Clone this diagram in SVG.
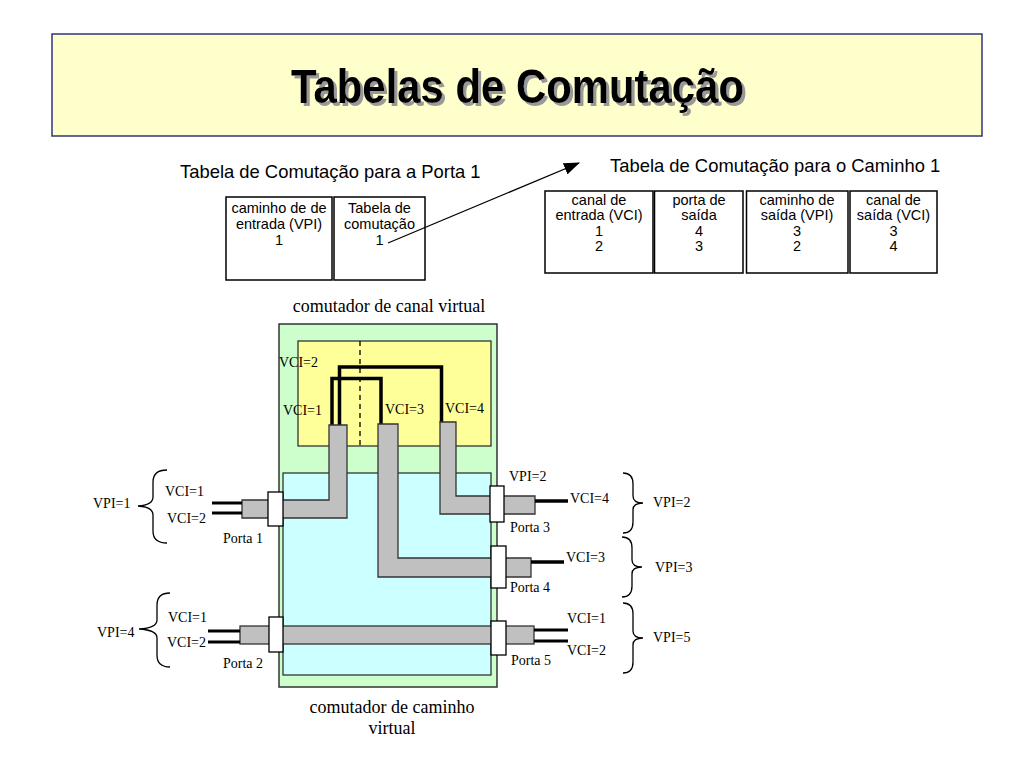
<svg xmlns="http://www.w3.org/2000/svg" width="1024" height="768" viewBox="0 0 1024 768">
<defs>
<style>
.sans{font-family:"Liberation Sans",Arial,sans-serif;fill:#000}
.tbl{font-family:"Liberation Sans",Arial,sans-serif;font-size:14.5px;text-anchor:middle;fill:#000}
.ser{font-family:"Liberation Serif","Times New Roman",serif;font-size:14px;fill:#000}
.big{font-family:"Liberation Serif","Times New Roman",serif;font-size:18px;fill:#000;text-anchor:middle}
.box{fill:#fff;stroke:#000;stroke-width:1.5}
.pipe{fill:#c0c0c0;stroke:#333;stroke-width:1.3}
.port{fill:#fff;stroke:#000;stroke-width:1.3}
.wire{fill:none;stroke:#000;stroke-width:3.5;stroke-linejoin:miter}
.brace{fill:none;stroke:#000;stroke-width:1.3}
</style>
<filter id="shadow" x="-5%" y="-20%" width="110%" height="140%">
<feOffset in="SourceAlpha" dx="2.5" dy="2.5" result="off"/>
<feFlood flood-color="#999999"/>
<feComposite in2="off" operator="in" result="sh"/>
<feMerge><feMergeNode in="sh"/><feMergeNode in="SourceGraphic"/></feMerge>
</filter>
<marker id="arr" markerWidth="16" markerHeight="12" refX="15" refY="6" orient="auto" markerUnits="userSpaceOnUse">
<path d="M0,0 L16,6 L0,12 Z" fill="#000"/>
</marker>
</defs>
<rect width="1024" height="768" fill="#fff"/>

<g id="title">
<rect x="52" y="34" width="930" height="102" fill="#ffffcc" stroke="#333380" stroke-width="1.5"/>
<text x="517.5" y="102.5" font-family="'Liberation Sans',Arial,sans-serif" font-weight="bold" font-size="48" text-anchor="middle" fill="#000" textLength="453" lengthAdjust="spacingAndGlyphs" filter="url(#shadow)">Tabelas de Comutação</text>
</g>

<g id="table-porta1">
<text class="sans" x="180" y="178" font-size="18.4">Tabela de Comutação para a Porta 1</text>
<g id="t1c1">
<rect class="box" x="226" y="197" width="106" height="83"/>
<text class="tbl" x="279" y="213">caminho de de</text>
<text class="tbl" x="279" y="229">entrada (VPI)</text>
<text class="tbl" x="279" y="245">1</text>
</g>
<g id="t1c2">
<rect class="box" x="334" y="197" width="91" height="83"/>
<text class="tbl" x="379.5" y="213">Tabela de</text>
<text class="tbl" x="379.5" y="229">comutação</text>
<text class="tbl" x="379.5" y="245">1</text>
</g>
</g>

<g id="table-caminho1">
<text class="sans" x="610" y="172" font-size="18.4">Tabela de Comutação para o Caminho 1</text>
<g id="t2c1">
<rect class="box" x="545" y="191" width="108" height="82"/>
<text class="tbl" x="599" y="205">canal de</text>
<text class="tbl" x="599" y="220">entrada (VCI)</text>
<text class="tbl" x="599" y="235.5">1</text>
<text class="tbl" x="599" y="251">2</text>
</g>
<g id="t2c2">
<rect class="box" x="654.5" y="191" width="88.5" height="82"/>
<text class="tbl" x="699" y="205">porta de</text>
<text class="tbl" x="699" y="220">saída</text>
<text class="tbl" x="699" y="235.5">4</text>
<text class="tbl" x="699" y="251">3</text>
</g>
<g id="t2c3">
<rect class="box" x="746.5" y="191" width="101.5" height="82"/>
<text class="tbl" x="797" y="205">caminho de</text>
<text class="tbl" x="797" y="220">saída (VPI)</text>
<text class="tbl" x="797" y="235.5">3</text>
<text class="tbl" x="797" y="251">2</text>
</g>
<g id="t2c4">
<rect class="box" x="850" y="191" width="87" height="82"/>
<text class="tbl" x="893.5" y="205">canal de</text>
<text class="tbl" x="893.5" y="220">saída (VCI)</text>
<text class="tbl" x="893.5" y="235.5">3</text>
<text class="tbl" x="893.5" y="251">4</text>
</g>
</g>

<g id="connectors">
<line x1="388" y1="243" x2="579" y2="163" stroke="#000" stroke-width="1.3" marker-end="url(#arr)"/>
</g>

<g id="switch">
<text class="big" x="389" y="312">comutador de canal virtual</text>
<rect id="vp-switch" x="279" y="324" width="218" height="363" fill="#ccffcc" stroke="#333" stroke-width="1.5"/>
<rect id="vc-switch" x="298" y="341" width="193" height="105" fill="#ffff99" stroke="#333" stroke-width="1.3"/>
<line x1="360" y1="341" x2="360" y2="446" stroke="#000" stroke-width="1.3" stroke-dasharray="5,4"/>
<rect id="vp-core" x="283" y="473" width="208" height="202" fill="#ccffff" stroke="#333" stroke-width="1.3"/>
<polyline class="wire" points="332,426 332,378.5 381,378.5 381,424"/>
<polyline class="wire" points="339.5,426 339.5,367 441.5,367 441.5,423"/>
<polygon class="pipe" points="242,500 329,500 329,425 347,425 347,518 242,518"/>
<polygon class="pipe" points="378,424 398,424 398,558 531,558 531,577 378,577"/>
<polygon class="pipe" points="440,422 456,422 456,496 535,496 535,514 440,514"/>
<rect class="pipe" x="240" y="626" width="294" height="18"/>
<text class="ser" x="279" y="367">VCI=2</text>
<text class="ser" x="283" y="415">VCI=1</text>
<text class="ser" x="385" y="414">VCI=3</text>
<text class="ser" x="445" y="413">VCI=4</text>
<text class="big" x="392" y="713">comutador de caminho</text>
<text class="big" x="392" y="734">virtual</text>
</g>

<g id="porta1">
<rect class="port" x="268" y="492" width="15" height="34"/>
<line x1="212" y1="503" x2="242" y2="503" stroke="#000" stroke-width="3"/>
<line x1="212" y1="513" x2="242" y2="513" stroke="#000" stroke-width="3"/>
<path class="brace" d="M167,470 Q153,470 153,482 L153,497 Q153,505 138,506 Q153,507 153,515 L153,531 Q153,543 167,543"/>
<text class="ser" x="93" y="508">VPI=1</text>
<text class="ser" x="165" y="496">VCI=1</text>
<text class="ser" x="167" y="523">VCI=2</text>
<text class="ser" x="223" y="543">Porta 1</text>
</g>

<g id="porta2">
<rect class="port" x="269" y="617" width="14" height="35"/>
<line x1="208" y1="631" x2="240" y2="631" stroke="#000" stroke-width="3"/>
<line x1="208" y1="642" x2="240" y2="642" stroke="#000" stroke-width="3"/>
<path class="brace" d="M170,593 Q157,593 157,605 L157,620 Q157,628 139,629 Q157,630 157,638 L157,655 Q157,667 170,667"/>
<text class="ser" x="97" y="637">VPI=4</text>
<text class="ser" x="168" y="622">VCI=1</text>
<text class="ser" x="167" y="647">VCI=2</text>
<text class="ser" x="223" y="668">Porta 2</text>
</g>

<g id="porta3">
<rect class="port" x="490" y="486" width="14" height="36"/>
<line x1="535" y1="501" x2="568" y2="501" stroke="#000" stroke-width="3.5"/>
<path class="brace" d="M623,473 Q633,473 633,484 L633,496 Q633,503 643,503 Q633,503 633,510 L633,522 Q633,533 623,533"/>
<text class="ser" x="509" y="481">VPI=2</text>
<text class="ser" x="570" y="503">VCI=4</text>
<text class="ser" x="510" y="532">Porta 3</text>
<text class="ser" x="653" y="507">VPI=2</text>
</g>

<g id="porta4">
<rect class="port" x="491" y="546" width="15" height="42"/>
<line x1="531" y1="562" x2="564" y2="562" stroke="#000" stroke-width="3.5"/>
<path class="brace" d="M622,537 Q632,537 632,548 L632,560 Q632,567 642,567 Q632,567 632,574 L632,586 Q632,597 622,597"/>
<text class="ser" x="566" y="562">VCI=3</text>
<text class="ser" x="510" y="592">Porta 4</text>
<text class="ser" x="655" y="572">VPI=3</text>
</g>

<g id="porta5">
<rect class="port" x="491" y="621" width="15" height="34"/>
<line x1="534" y1="630" x2="568" y2="630" stroke="#000" stroke-width="3"/>
<line x1="534" y1="641" x2="568" y2="641" stroke="#000" stroke-width="3"/>
<path class="brace" d="M623,603 Q633,603 633,614 L633,631 Q633,638 643,638 Q633,638 633,645 L633,662 Q633,673 623,673"/>
<text class="ser" x="567" y="623">VCI=1</text>
<text class="ser" x="567" y="655">VCI=2</text>
<text class="ser" x="511" y="665">Porta 5</text>
<text class="ser" x="653" y="642">VPI=5</text>
</g>
</svg>
